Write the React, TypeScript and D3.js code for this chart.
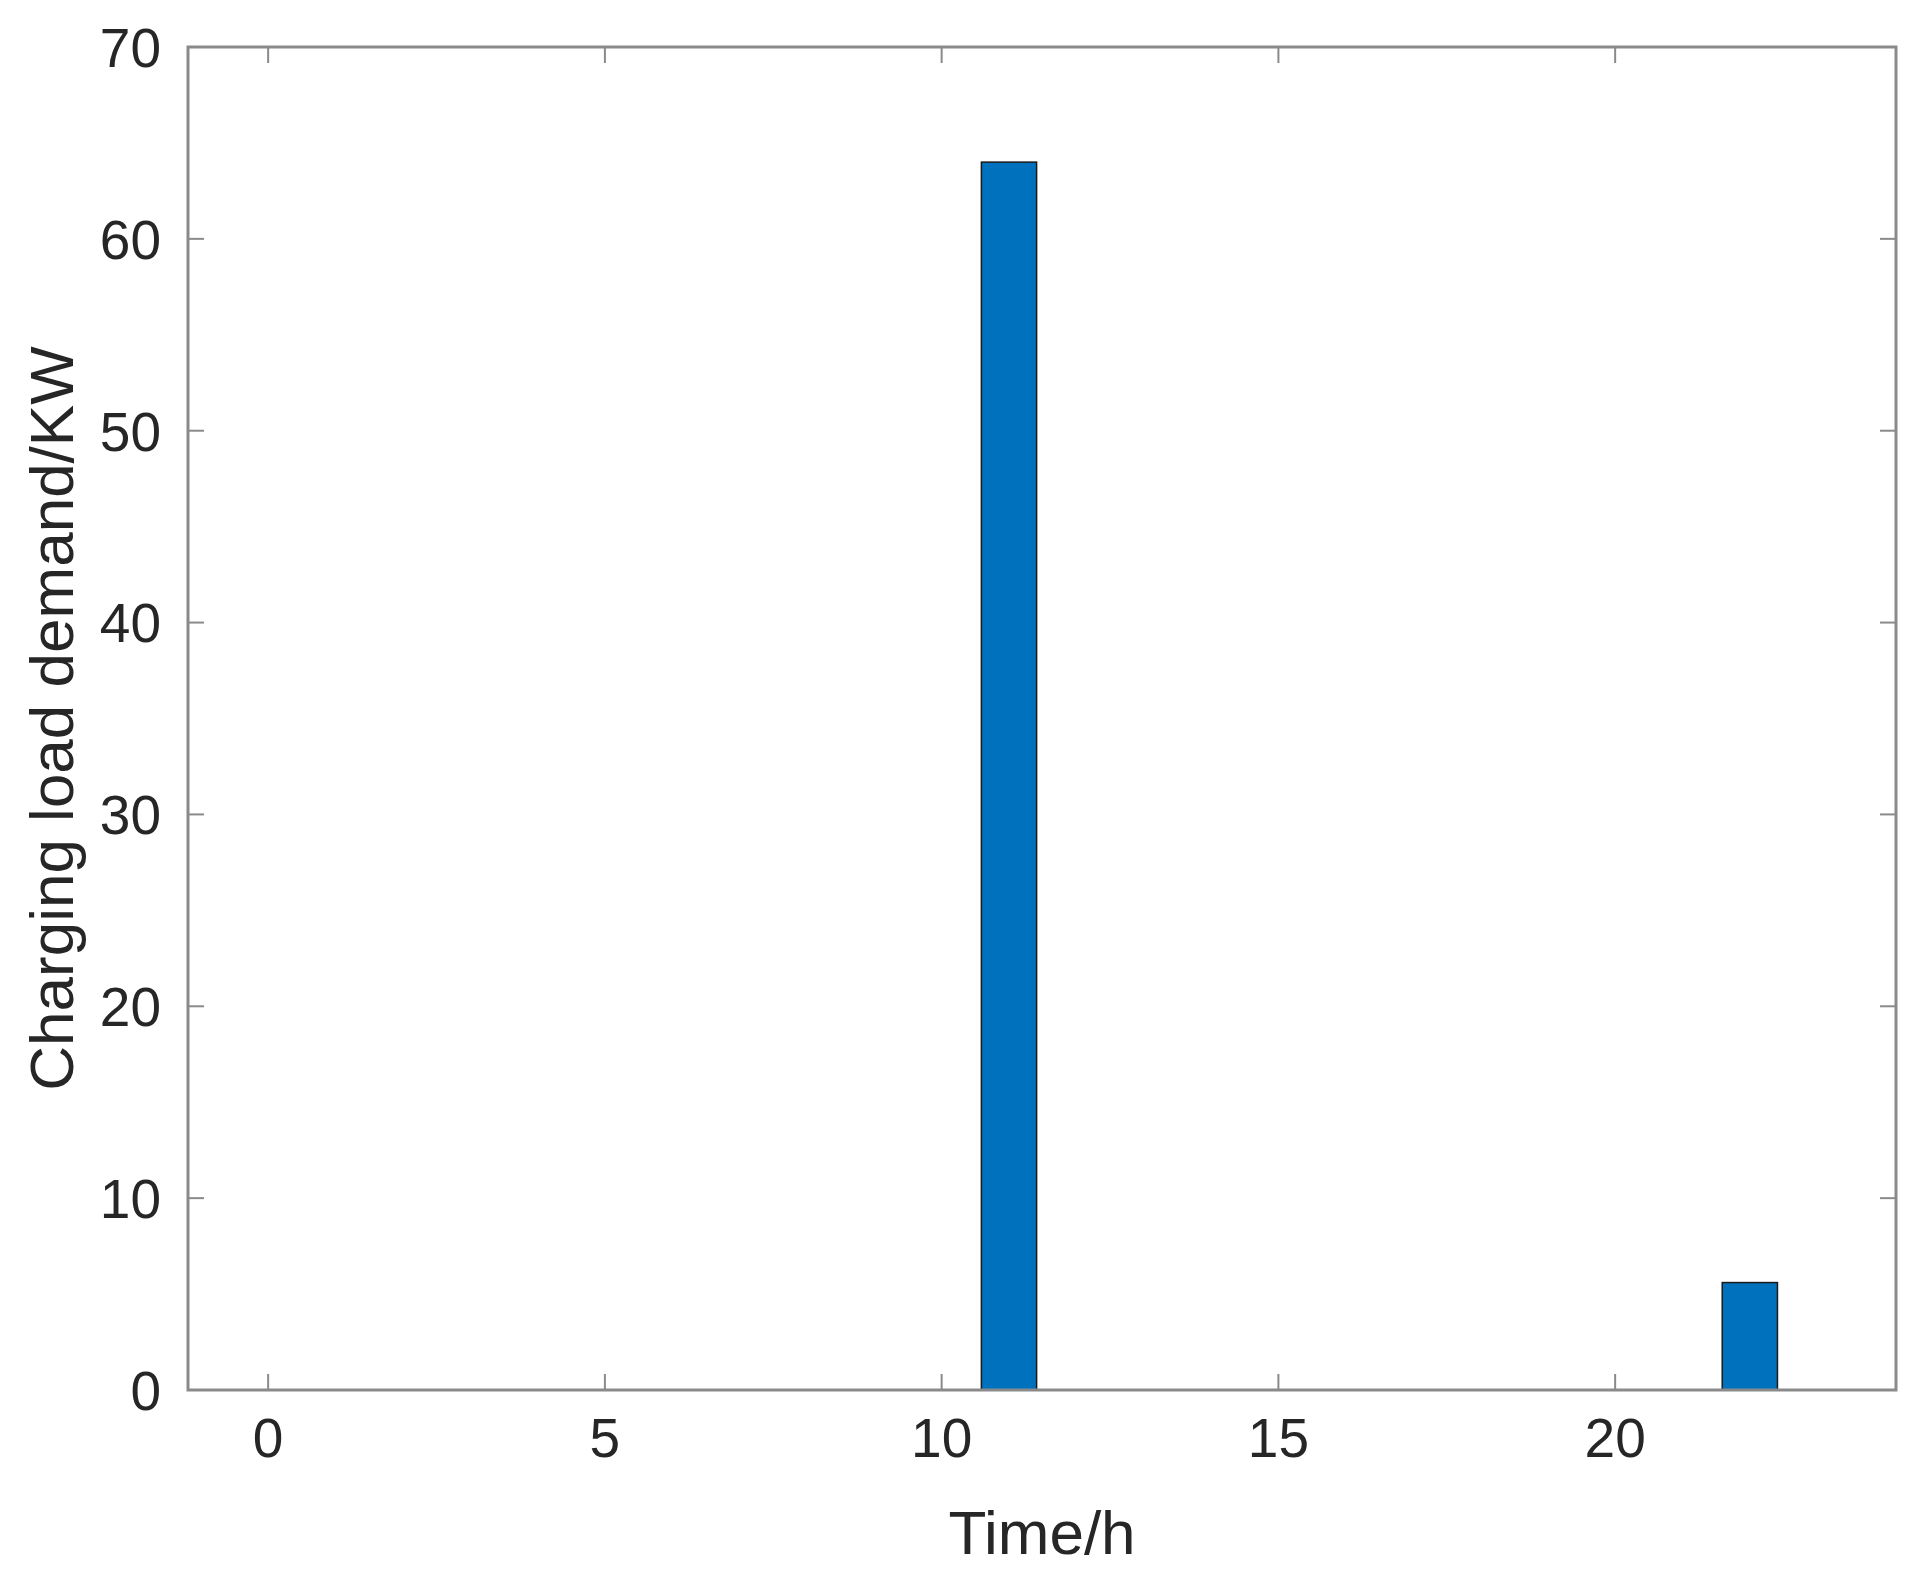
import React, { useEffect, useRef } from "react";
import * as d3 from "d3";

// hourly charging load (KW), hours 0..23
const hours = d3.range(0, 24);
const loads = [0, 0, 0, 0, 0, 0, 0, 0, 0, 0, 0, 64, 0, 0, 0, 0, 0, 0, 0, 0, 0, 0, 5.6, 0];
const xTicks = [0, 5, 10, 15, 20];
const yTicks = [0, 10, 20, 30, 40, 50, 60, 70];

const App = () => {
  const ref = useRef<SVGSVGElement | null>(null);

  useEffect(() => {
    if (!ref.current) return;
    const svg = d3.select(ref.current);
    svg.selectAll("*").remove();

    const left = 188; // axes box
    const right = 1896;
    const top = 47;
    const bottom = 1390;
    const axisColor = "#8a8a8a";
    const textColor = "#262626";
    const font = "'Liberation Sans', Arial, sans-serif";
    const tickLen = 16;

    const x = d3.scaleLinear().domain([-1.19, 24.17]).range([left, right]);
    const y = d3.scaleLinear().domain([0, 70]).range([bottom, top]);
    const barW = x(0.82) - x(0);

    const g = svg.append("g");

    // bars (zero bars lie on the axis, skip them)
    g.selectAll("rect.bar")
      .data(hours.map((h, i) => ({ h, v: loads[i] })).filter((d) => d.v > 0))
      .enter()
      .append("rect")
      .attr("class", "bar")
      .attr("x", (d) => x(d.h) - barW / 2)
      .attr("y", (d) => y(d.v))
      .attr("width", barW)
      .attr("height", (d) => y(0) - y(d.v))
      .attr("fill", "#0072BD")
      .attr("stroke", "#1a1a1a")
      .attr("stroke-width", 1.5);

    // ticks on all four sides, pointing inward
    xTicks.forEach((t) => {
      g.append("line").attr("x1", x(t)).attr("x2", x(t)).attr("y1", bottom).attr("y2", bottom - tickLen)
        .attr("stroke", axisColor).attr("stroke-width", 2);
      g.append("line").attr("x1", x(t)).attr("x2", x(t)).attr("y1", top).attr("y2", top + tickLen)
        .attr("stroke", axisColor).attr("stroke-width", 2);
      g.append("text").attr("x", x(t)).attr("y", bottom + 67)
        .attr("text-anchor", "middle").attr("font-family", font).attr("font-size", 55)
        .attr("fill", textColor).text(t);
    });
    yTicks.forEach((t) => {
      g.append("line").attr("x1", left).attr("x2", left + tickLen).attr("y1", y(t)).attr("y2", y(t))
        .attr("stroke", axisColor).attr("stroke-width", 2);
      g.append("line").attr("x1", right).attr("x2", right - tickLen).attr("y1", y(t)).attr("y2", y(t))
        .attr("stroke", axisColor).attr("stroke-width", 2);
      g.append("text").attr("x", left - 27).attr("y", y(t)).attr("dy", "0.36em")
        .attr("text-anchor", "end").attr("font-family", font).attr("font-size", 55)
        .attr("fill", textColor).text(t);
    });

    // axes box
    g.append("rect")
      .attr("x", left).attr("y", top)
      .attr("width", right - left).attr("height", bottom - top)
      .attr("fill", "none").attr("stroke", axisColor).attr("stroke-width", 3);

    // axis labels
    g.append("text")
      .attr("x", (left + right) / 2).attr("y", 1554)
      .attr("text-anchor", "middle").attr("font-family", font).attr("font-size", 62)
      .attr("fill", textColor).text("Time/h");
    g.append("text")
      .attr("transform", `translate(73, ${(top + bottom) / 2}) rotate(-90)`)
      .attr("text-anchor", "middle").attr("font-family", font).attr("font-size", 62)
      .attr("fill", textColor).text("Charging load demand/KW");
  }, []);

  return (
    <svg
      ref={ref}
      width={1920}
      height={1576}
      style={{ position: "absolute", left: 0, top: 0, background: "#fff" }}
    />
  );
};

export default App;
